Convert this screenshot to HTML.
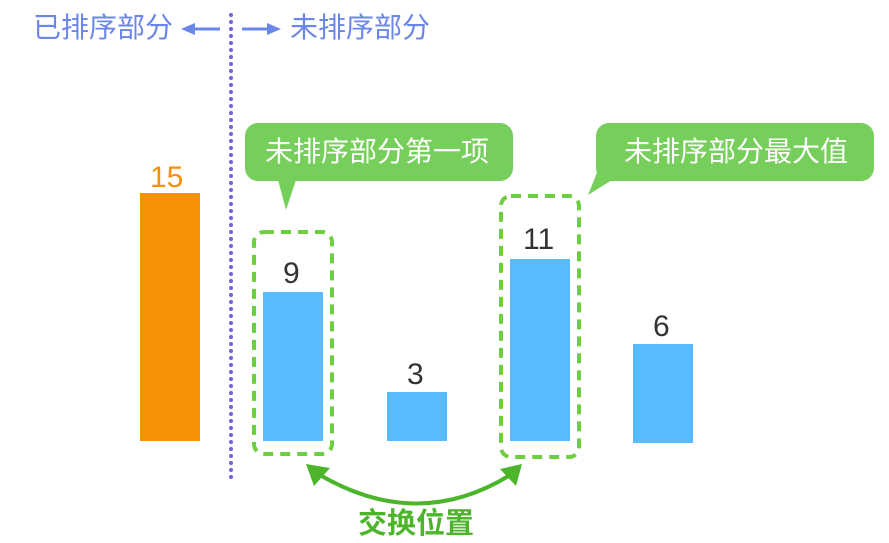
<!DOCTYPE html>
<html><head><meta charset="utf-8"><style>
body{margin:0;background:#fff;width:889px;height:543px;overflow:hidden;position:relative;font-family:"Liberation Sans","Noto Sans CJK SC",sans-serif}
.t{position:absolute;white-space:nowrap;line-height:1}
</style></head><body>
<svg width="889" height="543" style="position:absolute;left:0;top:0">
<line x1="231" y1="15" x2="231" y2="482" stroke="#7a5ce0" stroke-width="4" stroke-linecap="round" stroke-dasharray="0 7"/>
<line x1="192" y1="29" x2="220" y2="29" stroke="#6a86e8" stroke-width="3"/>
<polygon points="181,29 195,23 195,35" fill="#6a86e8"/>
<line x1="242" y1="29" x2="268" y2="29" stroke="#6a86e8" stroke-width="3"/>
<polygon points="281,29 267,23 267,35" fill="#6a86e8"/>
<rect x="140" y="193" width="60" height="248" fill="#f59105"/>
<rect x="263" y="292" width="60" height="149" fill="#57bbfd"/>
<rect x="387" y="392" width="60" height="49" fill="#57bbfd"/>
<rect x="510" y="259" width="60" height="182" fill="#57bbfd"/>
<rect x="633" y="344" width="60" height="99" fill="#57bbfd"/>
<rect x="254" y="232" width="78" height="222" rx="10" fill="none" stroke="#6dcf3f" stroke-width="4" stroke-dasharray="10 7"/>
<rect x="501" y="196" width="78" height="261" rx="10" fill="none" stroke="#6dcf3f" stroke-width="4" stroke-dasharray="10 7"/>
<rect x="245" y="123" width="268" height="58" rx="13" fill="#76cf5a"/>
<polygon points="278,180 296,180 286,210" fill="#76cf5a"/>
<rect x="596" y="123" width="278" height="58" rx="13" fill="#76cf5a"/>
<polygon points="600,165 612,180 588,195" fill="#76cf5a"/>
<path d="M315,472 Q418,535 515,472" fill="none" stroke="#4cb52b" stroke-width="4"/>
<polygon points="306,464 330,468 314,486" fill="#4cb52b"/>
<polygon points="522,464 500,469 516,486" fill="#4cb52b"/>
</svg>
<div class="t" style="left:33px;top:14px;font-size:28px;color:#6a86e8">已排序部分</div>
<div class="t" style="left:290px;top:14px;font-size:28px;color:#6a86e8">未排序部分</div>
<div class="t" style="left:150px;top:163px;font-size:30px;color:#f59105">15</div>
<div class="t" style="left:283px;top:259px;font-size:30px;color:#333">9</div>
<div class="t" style="left:407px;top:360px;font-size:30px;color:#333">3</div>
<div class="t" style="left:523px;top:225px;font-size:30px;color:#333">11</div>
<div class="t" style="left:653px;top:312px;font-size:30px;color:#333">6</div>
<div class="t" style="left:265px;top:138px;font-size:28px;color:#fff">未排序部分第一项</div>
<div class="t" style="left:624px;top:138px;font-size:28px;color:#fff">未排序部分最大值</div>
<div class="t" style="left:358px;top:510px;font-size:29px;font-weight:bold;color:#4cb52b">交换位置</div>
</body></html>
